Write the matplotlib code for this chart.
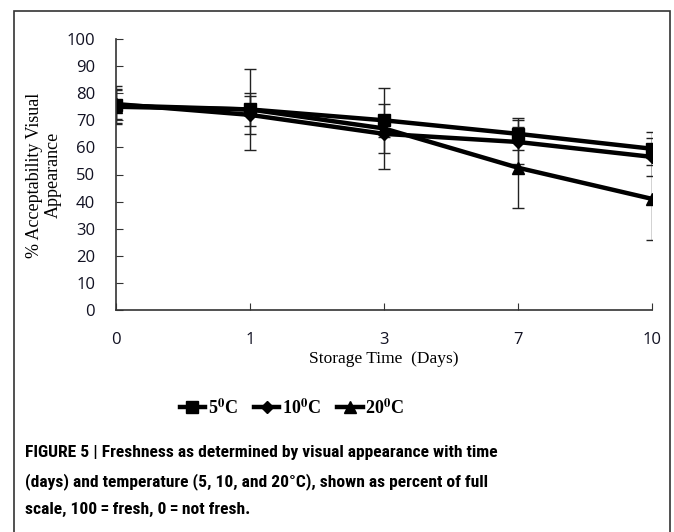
import matplotlib.pyplot as plt
from matplotlib.lines import Line2D
from matplotlib.patches import Rectangle

# dados
dias = ['0', '1', '3', '7', '10']
temp_5 = [75.5, 74, 70, 65, 59.5]
temp_10 = [76, 72, 65, 62, 56.5]
temp_20 = [75, 74, 67, 52.5, 41]
erro_5 = [7, 6, 6, 6, 6]
erro_10 = [5.5, 7, 7, 8, 7]
erro_20 = [6, 15, 15, 15, 15]
rotulos = [r'5$^\mathbf{0}$C', r'10$^\mathbf{0}$C', r'20$^\mathbf{0}$C']

plt.rcParams['mathtext.fontset'] = 'stix'

fig = plt.figure(figsize=(6.74, 5.32), dpi=100)
ax = fig.add_axes([116/674, 1 - 310/532, (652 - 116)/674, (310 - 39)/532])

x = range(len(dias))
series = [(temp_5, erro_5, 's', 9), (temp_10, erro_10, 'D', 6), (temp_20, erro_20, '^', 9)]
handles = []
for (vals, err, mk, ms), lab in zip(series, rotulos):
    ax.errorbar(x, vals, yerr=err, color='black', lw=3.2, marker=mk, ms=ms,
                ecolor='#222222', elinewidth=1, capsize=4, capthick=1)
    handles.append(Line2D([], [], color='black', lw=3.2, marker=mk, ms=ms, label=lab))

ax.set_xlim(0, 4)
ax.set_ylim(0, 100)
ax.set_xticks(list(x))
ax.set_xticklabels(dias)
ax.set_yticks(range(0, 101, 10))
for s in ['top', 'right']:
    ax.spines[s].set_visible(False)
for s in ['left', 'bottom']:
    ax.spines[s].set_color('#333333')
    ax.spines[s].set_linewidth(1.2)
ax.tick_params(direction='in', length=5, color='#333333', labelsize=12,
               labelcolor='#111122')
ax.tick_params(axis='x', pad=16)
ax.tick_params(axis='y', pad=15)
for t in ax.get_xticklabels() + ax.get_yticklabels():
    t.set_family(['Open Sans', 'DejaVu Sans'])

ax.set_xlabel('Storage Time  (Days)', family='Liberation Serif', fontsize=12.5, labelpad=2)
fig.text(44/674, 1 - 175/532, '% Acceptability Visual\nAppearance', rotation=90,
         family='Liberation Serif', fontsize=13, ha='center', va='center',
         linespacing=1.15)

fig.legend(handles=handles, loc='center', bbox_to_anchor=(292/674, 1 - 408/532),
           ncol=3, frameon=False, handlelength=1.4, handletextpad=0.15,
           columnspacing=0.9, prop={'family': 'Liberation Serif', 'weight': 'bold', 'size': 13})

# moldura da figura
fig.patches.append(Rectangle((14/674, -0.02), (670 - 14)/674, 1.02 - 11/532,
                             transform=fig.transFigure, fill=False,
                             edgecolor='#333333', lw=1.2))

legenda = ('FIGURE 5 | Freshness as determined by visual appearance with time\n'
           '(days) and temperature (5, 10, and 20\u00b0C), shown as percent of full\n'
           'scale, 100\u2009=\u2009fresh, 0\u2009=\u2009not fresh.')
fig.text(25/674, 1 - 445/532, legenda,
         family=['Roboto Condensed', 'Barlow Condensed', 'DejaVu Sans'],
         weight='bold', fontsize=12.6, va='top', ha='left', linespacing=2.0)

plt.savefig('out.png', dpi=100)
